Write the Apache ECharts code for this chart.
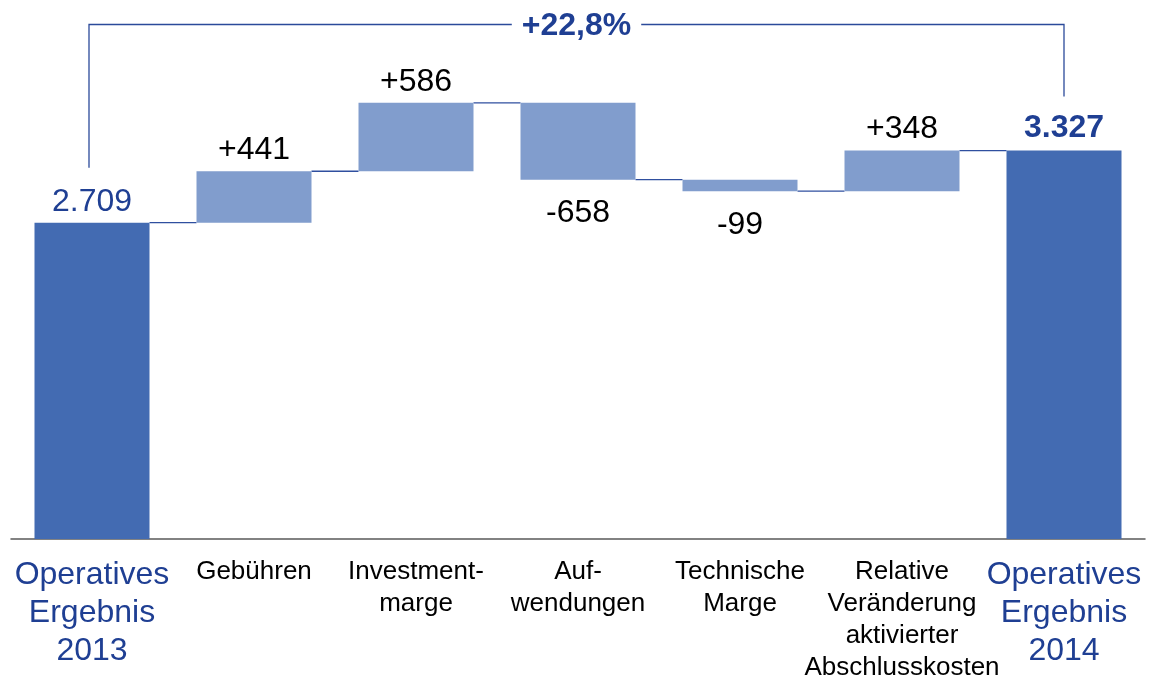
<!DOCTYPE html>
<html>
<head>
<meta charset="utf-8">
<script src="https://cdn.jsdelivr.net/npm/echarts@6/dist/echarts.min.js"></script>
<style>
  html, body { margin: 0; padding: 0; background: #fff; }
  #main { width: 1152px; height: 678px; }
</style>
</head>
<body>
<div id="main"></div>
<script>
// data
const categories = [
  'Operatives\nErgebnis\n2013',
  'Gebühren',
  'Investment-\nmarge',
  'Auf-\nwendungen',
  'Technische\nMarge',
  'Relative\nVeränderung\naktivierter\nAbschlusskosten',
  'Operatives\nErgebnis\n2014'
];
const startValue = 2709;
const changes = [441, 586, -658, -99, 348];
const endValue = 3327;
const totalChangeLabel = '+22,8%';

const FONT = '"Liberation Sans", Arial, sans-serif';
const DARK_BLUE = '#1f3f93';
const TOTAL_COLOR = '#436bb2';
const CHANGE_COLOR = '#819dcd';
const BAR_WIDTH = 115;

function fmtTotal(v) {
  return String(v).replace(/\B(?=(\d{3})+(?!\d))/g, '.');
}

// build waterfall pieces
const baseData = [0];
const barData = [];
const levels = []; // running total after each bar, used for connectors
let running = startValue;

barData.push({
  value: startValue,
  itemStyle: { color: TOTAL_COLOR },
  label: { show: true, position: 'top', distance: 5, color: DARK_BLUE,
           formatter: fmtTotal(startValue) }
});
levels.push(running);

changes.forEach(function (c) {
  const next = running + c;
  baseData.push(Math.min(running, next));
  barData.push({
    value: Math.abs(c),
    itemStyle: { color: CHANGE_COLOR },
    label: {
      show: true,
      position: c >= 0 ? 'top' : 'bottom',
      distance: c >= 0 ? 5 : 18,
      color: '#000',
      formatter: (c >= 0 ? '+' : '-') + Math.abs(c)
    }
  });
  running = next;
  levels.push(running);
});

baseData.push(0);
barData.push({
  value: endValue,
  itemStyle: { color: TOTAL_COLOR },
  label: { show: true, position: 'top', distance: 6, color: DARK_BLUE,
           fontWeight: 'bold', formatter: fmtTotal(endValue) }
});

const connectorData = levels.map(function (lv, i) { return [i, lv]; });

const chart = echarts.init(document.getElementById('main'));

const option = {
  animation: false,
  textStyle: { fontFamily: FONT },
  grid: { left: 11, right: 7, top: 72, bottom: 139, outerBoundsMode: 'none', containLabel: false },
  xAxis: {
    type: 'category',
    data: categories,
    axisTick: { show: false },
    axisLine: { lineStyle: { color: '#595959', width: 1.5 } },
    axisLabel: {
      interval: 0,
      margin: 17,
      formatter: function (value, idx) {
        const key = (idx === 0 || idx === categories.length - 1) ? 'big' : 'small';
        return value.split('\n').map(function (s) { return '{' + key + '|' + s + '}'; }).join('\n');
      },
      rich: {
        big: { fontSize: 32, lineHeight: 38, color: DARK_BLUE, fontFamily: FONT },
        small: { fontSize: 26, lineHeight: 32, color: '#000', fontFamily: FONT }
      }
    }
  },
  yAxis: {
    type: 'value',
    min: 0,
    max: 4000,
    show: false
  },
  series: [
    {
      type: 'bar',
      stack: 'w',
      barWidth: BAR_WIDTH,
      silent: true,
      itemStyle: { color: 'transparent' },
      data: baseData
    },
    {
      type: 'bar',
      stack: 'w',
      barWidth: BAR_WIDTH,
      label: { fontSize: 32, fontFamily: FONT },
      data: barData
    },
    {
      // connector lines between neighbouring bars
      type: 'custom',
      silent: true,
      data: connectorData,
      renderItem: function (params, api) {
        const i = api.value(0);
        const lv = api.value(1);
        const p = api.coord([i, lv]);
        const q = api.coord([i + 1, lv]);
        return {
          type: 'line',
          shape: { x1: p[0] + BAR_WIDTH / 2, y1: p[1], x2: q[0] - BAR_WIDTH / 2, y2: q[1] },
          style: { stroke: '#2f4f9f', lineWidth: 1.3 }
        };
      }
    },
    {
      // bracket with the overall change
      type: 'custom',
      silent: true,
      clip: false,
      data: [[0, startValue, categories.length - 1, endValue]],
      renderItem: function (params, api) {
        const a = api.coord([api.value(0), api.value(1)]);
        const b = api.coord([api.value(2), api.value(3)]);
        const topY = 24.5;
        const xl = a[0] - 3;
        const xr = b[0];
        return {
          type: 'group',
          children: [
            {
              type: 'polyline',
              shape: { points: [[xl, a[1] - 55], [xl, topY], [xr, topY], [xr, b[1] - 54]] },
              style: { stroke: '#2b4a9a', lineWidth: 1.3, fill: null }
            },
            {
              type: 'text',
              style: {
                x: (xl + xr) / 2,
                y: topY + 2,
                text: totalChangeLabel,
                align: 'center',
                verticalAlign: 'middle',
                font: 'bold 32px ' + FONT,
                fill: DARK_BLUE,
                backgroundColor: '#fff',
                padding: [0, 10]
              }
            }
          ]
        };
      }
    }
  ]
};

chart.setOption(option);
</script>
</body>
</html>
